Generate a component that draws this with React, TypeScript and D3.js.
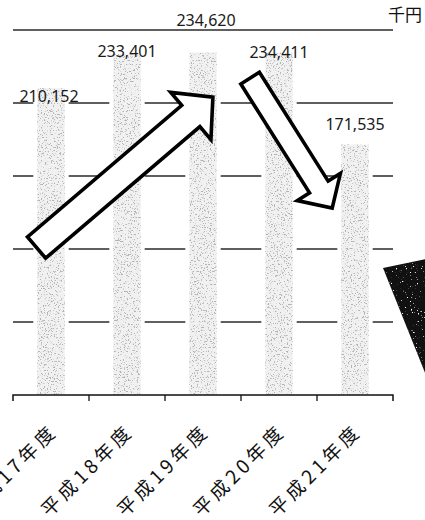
import React, { useEffect, useRef } from 'react';
import * as d3 from 'd3';

const categories = ['平成17年度', '平成18年度', '平成19年度', '平成20年度', '平成21年度'];
const amounts = [210152, 233401, 234620, 234411, 171535];
const gridValues = [50000, 100000, 150000, 200000, 250000];
const unitLabel = '千円';

// annotation arrows, given as [category index (fractional), value]
const riseArrow = { from: [-0.19, 101000], to: [2.13, 204000] };
const fallArrow = { from: [2.62, 217000], to: [3.7, 128000] };

const W = 425;
const H = 520;

function blockArrow(x0: number, y0: number, x1: number, y1: number, shaft: number, head: number, headLen: number) {
  const len = Math.hypot(x1 - x0, y1 - y0);
  const ux = (x1 - x0) / len, uy = (y1 - y0) / len;
  const px = -uy, py = ux;
  const bx = x1 - ux * headLen, by = y1 - uy * headLen;
  return [
    [x0 + px * shaft / 2, y0 + py * shaft / 2],
    [bx + px * shaft / 2, by + py * shaft / 2],
    [bx + px * head / 2, by + py * head / 2],
    [x1, y1],
    [bx - px * head / 2, by - py * head / 2],
    [bx - px * shaft / 2, by - py * shaft / 2],
    [x0 - px * shaft / 2, y0 - py * shaft / 2],
  ];
}

const App: React.FC = () => {
  const svgRef = useRef<SVGSVGElement>(null);

  useEffect(() => {
    document.body.style.margin = '0';
    if (!svgRef.current) return;

    const svg = d3.select(svgRef.current);
    svg.selectAll('*').remove();

    const left = 13, right = 393, top = 30, bottom = 395;

    const x = d3.scaleBand<string>()
      .domain(categories)
      .range([left, right])
      .paddingInner(0.64)
      .paddingOuter(0.32);

    const y = d3.scaleLinear()
      .domain([0, 250000])
      .range([bottom, top]);

    const pos = (i: number) => (x(categories[0]) || 0) + x.bandwidth() / 2 + i * x.step();

    const defs = svg.append('defs');
    const stipple = defs.append('filter')
      .attr('id', 'stipple')
      .attr('x', 0).attr('y', 0).attr('width', 1).attr('height', 1);
    stipple.append('feTurbulence')
      .attr('type', 'fractalNoise')
      .attr('baseFrequency', 0.7)
      .attr('numOctaves', 3)
      .attr('seed', 7)
      .attr('result', 'noise');
    stipple.append('feColorMatrix')
      .attr('in', 'noise')
      .attr('type', 'matrix')
      .attr('values', '0 0 0 0 0.45  0 0 0 0 0.45  0 0 0 0 0.45  -9 0 0 0 3.75')
      .attr('result', 'dots');
    stipple.append('feComposite')
      .attr('in', 'dots')
      .attr('in2', 'SourceAlpha')
      .attr('operator', 'in');

    const speckle = defs.append('filter')
      .attr('id', 'speckle')
      .attr('x', 0).attr('y', 0).attr('width', 1).attr('height', 1);
    speckle.append('feTurbulence')
      .attr('type', 'fractalNoise')
      .attr('baseFrequency', 0.8)
      .attr('numOctaves', 2)
      .attr('seed', 3)
      .attr('result', 'noise');
    speckle.append('feColorMatrix')
      .attr('in', 'noise')
      .attr('type', 'matrix')
      .attr('values', '0 0 0 0 1  0 0 0 0 1  0 0 0 0 1  9 0 0 0 -6.1')
      .attr('result', 'dots');
    speckle.append('feComposite')
      .attr('in', 'dots')
      .attr('in2', 'SourceAlpha')
      .attr('operator', 'in');

    // gridlines
    svg.append('g')
      .selectAll('line')
      .data(gridValues)
      .enter()
      .append('line')
      .attr('x1', left)
      .attr('x2', right)
      .attr('y1', d => y(d))
      .attr('y2', d => y(d))
      .attr('stroke', '#2a2a2a')
      .attr('stroke-width', 1.4);

    // bars: light backing hides the gridlines, then the stipple
    const bars = svg.append('g');
    bars.selectAll('rect.back')
      .data(amounts)
      .enter()
      .append('rect')
      .attr('class', 'back')
      .attr('x', (d, i) => (x(categories[i]) || 0) - 4)
      .attr('y', d => y(d))
      .attr('width', x.bandwidth() + 8)
      .attr('height', d => bottom - y(d))
      .attr('fill', '#fff');
    bars.selectAll('rect.tint')
      .data(amounts)
      .enter()
      .append('rect')
      .attr('class', 'tint')
      .attr('x', (d, i) => x(categories[i]) || 0)
      .attr('y', d => y(d))
      .attr('width', x.bandwidth())
      .attr('height', d => bottom - y(d))
      .attr('fill', '#f1f1f1');
    bars.selectAll('rect.dots')
      .data(amounts)
      .enter()
      .append('rect')
      .attr('class', 'dots')
      .attr('x', (d, i) => x(categories[i]) || 0)
      .attr('y', d => y(d))
      .attr('width', x.bandwidth())
      .attr('height', d => bottom - y(d))
      .attr('fill', '#888')
      .attr('filter', 'url(#stipple)');

    // x axis with ticks at band boundaries
    const edges = d3.range(categories.length + 1).map(i => pos(i - 0.5));
    svg.append('path')
      .attr('d', `M${edges[0]},${bottom + 6}V${bottom}H${edges[edges.length - 1]}V${bottom + 6}`)
      .attr('fill', 'none')
      .attr('stroke', '#111')
      .attr('stroke-width', 1.5);
    svg.append('g')
      .selectAll('line')
      .data(edges.slice(1, -1))
      .enter()
      .append('line')
      .attr('x1', d => d).attr('x2', d => d)
      .attr('y1', bottom).attr('y2', bottom + 6)
      .attr('stroke', '#111')
      .attr('stroke-width', 1.3);

    // category labels: every glyph placed along a 45° line and turned with it
    const labelFont = '"Noto Sans CJK JP", sans-serif';
    const labelSize = 19;
    const gap = 4;
    const ctx = document.createElement('canvas').getContext('2d');
    const advance = (ch: string) => {
      if (!ctx) return /\d/.test(ch) ? labelSize * 0.55 : labelSize;
      ctx.font = `${labelSize}px ${labelFont}`;
      return ctx.measureText(ch).width;
    };
    const ux = Math.SQRT1_2, uy = -Math.SQRT1_2;
    const glyphLayout = (label: string) => {
      const chars = Array.from(label);
      const adv = chars.map(advance);
      const total = d3.sum(adv) + gap * (chars.length - 1);
      const ax = (x(label) || 0) + x.bandwidth() / 2 + 5;
      const ay = bottom + 40;
      let s = 0;
      return chars.map((ch, k) => {
        const d = s - total;
        s += adv[k] + gap;
        return { x: ax + d * ux, y: ay + d * uy };
      });
    };
    svg.append('g')
      .selectAll('text')
      .data(categories)
      .enter()
      .append('text')
      .attr('x', d => glyphLayout(d).map(p => p.x.toFixed(1)).join(' '))
      .attr('y', d => glyphLayout(d).map(p => p.y.toFixed(1)).join(' '))
      .attr('rotate', d => Array.from(d).map(() => -45).join(' '))
      .attr('font-family', labelFont)
      .attr('font-size', labelSize)
      .attr('fill', '#111')
      .text(d => d);

    // value labels (nudged like the original)
    const nudge = [[-2, 14], [0, 3], [3, -26], [0, 5], [0, -15]];
    svg.append('g')
      .selectAll('text')
      .data(amounts)
      .enter()
      .append('text')
      .attr('x', (d, i) => (x(categories[i]) || 0) + x.bandwidth() / 2 + nudge[i][0])
      .attr('y', (d, i) => y(d) + nudge[i][1])
      .attr('text-anchor', 'middle')
      .attr('font-family', '"Noto Sans", sans-serif')
      .attr('font-size', 16)
      .attr('fill', '#1a1a1a')
      .text(d => d3.format(',')(d));

    // arrows
    const arrows = [
      { a: riseArrow, shaft: 28, head: 62, headLen: 29 },
      { a: fallArrow, shaft: 22, head: 51, headLen: 25 },
    ];
    svg.append('g')
      .selectAll('polygon')
      .data(arrows)
      .enter()
      .append('polygon')
      .attr('points', d => blockArrow(
        pos(d.a.from[0]), y(d.a.from[1]), pos(d.a.to[0]), y(d.a.to[1]), d.shaft, d.head, d.headLen
      ).map(p => p.join(',')).join(' '))
      .attr('fill', '#fff')
      .attr('stroke', '#000')
      .attr('stroke-width', 3.6)
      .attr('stroke-linejoin', 'miter');

    // dark triangle at the right edge
    const tri = [[383, 268], [440, 256], [440, 410]].map(p => p.join(',')).join(' ');
    svg.append('polygon').attr('points', tri).attr('fill', '#111');
    svg.append('polygon').attr('points', tri).attr('fill', '#fff').attr('filter', 'url(#speckle)');

    // unit
    svg.append('text')
      .attr('x', W - 3)
      .attr('y', 21)
      .attr('text-anchor', 'end')
      .attr('font-family', '"Noto Sans CJK JP", sans-serif')
      .attr('font-size', 17)
      .attr('fill', '#111')
      .text(unitLabel);
  }, []);

  return <svg ref={svgRef} width={W} height={H} style={{ display: 'block', background: '#fff' }} />;
};

export default App;
